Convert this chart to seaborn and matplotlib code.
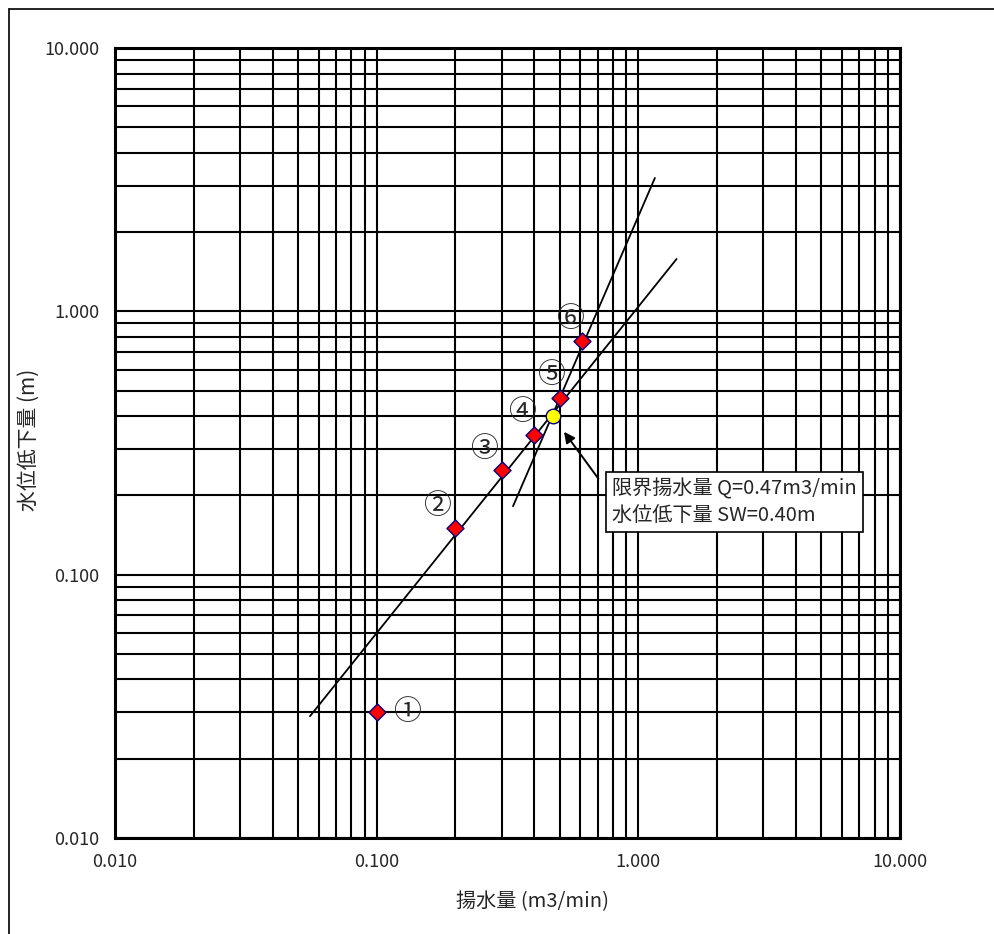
import matplotlib
matplotlib.use("Agg")
import matplotlib.pyplot as plt
from matplotlib.lines import Line2D
import numpy as np
import pandas as pd
import seaborn as sns

# Pumping test results: discharge Q (m3/min) vs drawdown sw (m)
pump_rate = [0.10, 0.20, 0.30, 0.40, 0.50, 0.61]
drawdown = [0.030, 0.150, 0.250, 0.340, 0.470, 0.770]
step_labels = ["①", "②", "③", "④", "⑤", "⑥"]

# Fitted straight lines on log-log paper (end points)
fit_low_q = [0.0556, 1.40]
fit_low_s = [0.0290, 1.58]
fit_high_q = [0.332, 1.157]
fit_high_s = [0.182, 3.21]

# Critical pumping rate at the break point
q_crit = 0.47
s_crit = 0.40

tick_vals = [0.01, 0.1, 1.0, 10.0]
tick_text = ["0.010", "0.100", "1.000", "10.000"]

sns.set_style("white")
plt.rcParams["font.family"] = ["Noto Sans CJK JP", "DejaVu Sans"]

W, H = 995, 934
fig = plt.figure(figsize=(W / 100, H / 100), dpi=100)
ax = fig.add_axes([115 / W, 1 - 838 / H, (900 - 115) / W, (838 - 48) / H])

ax.set_xscale("log")
ax.set_yscale("log")
ax.set_xlim(0.01, 10)
ax.set_ylim(0.01, 10)

# full log grid, major and minor, in solid black
ax.grid(True, which="both", color="black", linewidth=1.5)
ax.set_axisbelow(True)
for sp in ax.spines.values():
    sp.set_color("black")
    sp.set_linewidth(2.2)

fits = pd.DataFrame({
    "q": fit_low_q + fit_high_q,
    "s": fit_low_s + fit_high_s,
    "line": ["low"] * 2 + ["high"] * 2,
})
sns.lineplot(data=fits, x="q", y="s", units="line", estimator=None, sort=False,
             color="black", linewidth=1.3, ax=ax, zorder=3)

pts = pd.DataFrame({"q": pump_rate, "s": drawdown})
sns.scatterplot(data=pts, x="q", y="s", marker="D", s=75, color="#FF0000",
                edgecolor="#000080", linewidth=1.0, ax=ax, zorder=4)
sns.scatterplot(x=[q_crit], y=[s_crit], marker="o", s=110, color="#FFFF00",
                edgecolor="#000080", linewidth=1.0, ax=ax, zorder=5)

offsets = [(22, 0), (-13, 16), (-13, 15), (-9, 16), (-6, 16), (-9, 16)]
for q, s, lab, off in zip(pump_rate, drawdown, step_labels, offsets):
    ax.annotate(lab, (q, s), xytext=off, textcoords="offset points",
                ha="center", va="center", fontsize=20, zorder=6)

# critical point callout
ax.annotate("", xy=(q_crit, s_crit), xytext=(33, -45), textcoords="offset points",
            arrowprops=dict(arrowstyle="-|>", color="black", lw=1.4,
                            mutation_scale=16, shrinkA=0, shrinkB=14), zorder=6)
ax.text(612 / W, 1 - 478 / H,
        "限界揚水量 Q=0.47m3/min\n水位低下量 SW=0.40m",
        transform=fig.transFigure, ha="left", va="top", fontsize=14.5,
        linespacing=1.35, zorder=7,
        bbox=dict(boxstyle="square,pad=0.3", facecolor="white",
                  edgecolor="black", linewidth=1.2))

ax.set_xticks(tick_vals)
ax.set_xticklabels(tick_text)
ax.set_yticks(tick_vals)
ax.set_yticklabels(tick_text)
ax.minorticks_on()
ax.tick_params(which="both", length=0)
ax.tick_params(axis="x", pad=11, labelsize=13)
ax.tick_params(axis="y", pad=11, labelsize=13)
ax.xaxis.set_minor_formatter(matplotlib.ticker.NullFormatter())
ax.yaxis.set_minor_formatter(matplotlib.ticker.NullFormatter())

ax.set_xlabel("揚水量 (m3/min)", fontsize=14.5)
ax.set_ylabel("水位低下量 (m)", fontsize=15)
ax.xaxis.set_label_coords((533 - 115) / 785, -(891 - 838) / 790)
ax.yaxis.set_label_coords(-(115 - 40) / 785, (838 - 440) / 790)

# outer frame
fig.add_artist(Line2D([9 / W, 9 / W], [0, 1 - 9 / H], transform=fig.transFigure,
                      color="black", linewidth=1.2))
fig.add_artist(Line2D([9 / W, 1], [1 - 9 / H, 1 - 9 / H], transform=fig.transFigure,
                      color="black", linewidth=1.2))

fig.savefig("out.png", dpi=100, facecolor="white")
